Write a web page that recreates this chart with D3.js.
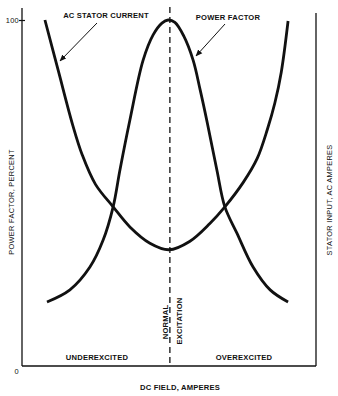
<!DOCTYPE html>
<meta charset="utf-8">
<head>
<style>
 body { margin: 0; background: #fff; }
 svg text { font-family: "Liberation Sans", Arial, sans-serif; fill: #111; }
 .lbl { font-size: 7.6px; font-weight: bold; letter-spacing: 0.2px; }
 .ax { font-size: 7.4px; letter-spacing: 0.3px; }
</style>
</head>
<body></body>
<script src="https://d3js.org/d3.v7.min.js"></script>
<script>
 // DC field (percent of axis span) vs values (percent of axis height)
 const currentX = [7.8, 12.3, 17.3, 20.5, 25, 31, 36.7, 43.5, 50, 57, 63.9, 69, 75.2, 80, 83.5, 86, 88.2, 90.5];
 const currentY = [100, 85.5, 69.5, 61, 52.5, 46, 40.2, 35.5, 33.6, 36, 41.2, 46, 53, 60, 68.5, 76, 85, 99.7];
 const pfX = [8.5, 16.3, 23.1, 27.6, 31, 33.3, 36.7, 41.2, 44.6, 47.6, 49.7, 52, 55, 58.2, 60.6, 63, 66.3, 69, 73.1, 78.6, 84.4, 90.5];
 const pfY = [18.5, 22, 28.6, 36.4, 46, 56.6, 71.1, 88.4, 95.7, 99.1, 100, 99.3, 95.4, 88.4, 79.8, 70.4, 56.6, 46, 38.4, 28.6, 22, 18.5];
 const yTicks = [0, 100];
 const normalX = 50.3;

 const width = 338, height = 396;
 const svg = d3.select("body").append("svg")
     .attr("width", width).attr("height", height);

 const x = d3.scaleLinear().domain([0, 100]).range([22, 316]);
 const y = d3.scaleLinear().domain([0, 100]).range([366, 20]);

 svg.append("defs").append("marker")
     .attr("id", "arr").attr("viewBox", "0 0 10 10")
     .attr("refX", 9).attr("refY", 5)
     .attr("markerWidth", 7).attr("markerHeight", 7)
     .attr("orient", "auto")
     .append("path").attr("d", "M0,1 L10,5 L0,9 Z").attr("fill", "#111");

 // frame lines
 const axisColor = "#111";
 svg.append("line").attr("x1", x(0)).attr("x2", x(0)).attr("y1", 8).attr("y2", y(0))
     .attr("stroke", axisColor).attr("stroke-width", 1.3);
 svg.append("line").attr("x1", x(100)).attr("x2", x(100)).attr("y1", 13).attr("y2", y(0))
     .attr("stroke", axisColor).attr("stroke-width", 1.3);
 svg.append("line").attr("x1", x(0)).attr("x2", x(100)).attr("y1", y(0)).attr("y2", y(0))
     .attr("stroke", axisColor).attr("stroke-width", 1.6);

 // y ticks
 const yAxis = svg.append("g").attr("transform", `translate(${x(0)},0)`)
     .call(d3.axisLeft(y).tickValues(yTicks).tickSize(3).tickFormat(d3.format("d")));
 yAxis.select(".domain").remove();
 yAxis.selectAll(".tick line").attr("x1", 3).attr("x2", -3).attr("stroke", axisColor)
     .attr("stroke-width", 1.2)
     .filter(d => d === 0).remove();
 yAxis.selectAll(".tick text").attr("class", "ax").attr("font-size", null)
     .attr("font-family", null).attr("x", -3)
     .filter(d => d === 0).attr("x", -3).attr("dy", "0.95em");

 // normal excitation dashed line
 svg.append("line").attr("x1", x(normalX)).attr("x2", x(normalX)).attr("y1", 7).attr("y2", y(0))
     .attr("stroke", axisColor).attr("stroke-width", 1.3).attr("stroke-dasharray", "6,4");

 const line = d3.line().x(d => x(d[0])).y(d => y(d[1])).curve(d3.curveCatmullRom.alpha(0.5));
 svg.append("path").datum(d3.zip(currentX, currentY)).attr("d", line)
     .attr("fill", "none").attr("stroke", "#111").attr("stroke-width", 2.8);
 svg.append("path").datum(d3.zip(pfX, pfY)).attr("d", line)
     .attr("fill", "none").attr("stroke", "#111").attr("stroke-width", 2.8);

 // callouts
 svg.append("text").attr("class", "lbl").attr("x", 106).attr("y", 18)
     .attr("text-anchor", "middle").text("AC STATOR CURRENT");
 svg.append("line").attr("x1", 97).attr("y1", 23).attr("x2", 60).attr("y2", 61)
     .attr("stroke", "#111").attr("stroke-width", 1).attr("marker-end", "url(#arr)");
 svg.append("text").attr("class", "lbl").attr("x", 228).attr("y", 20)
     .attr("text-anchor", "middle").text("POWER FACTOR");
 svg.append("line").attr("x1", 225).attr("y1", 24).attr("x2", 196).attr("y2", 56)
     .attr("stroke", "#111").attr("stroke-width", 1).attr("marker-end", "url(#arr)");

 // region labels
 svg.append("text").attr("class", "lbl").attr("x", 97).attr("y", 360)
     .attr("text-anchor", "middle").text("UNDEREXCITED");
 svg.append("text").attr("class", "lbl").attr("x", 244).attr("y", 360)
     .attr("text-anchor", "middle").text("OVEREXCITED");
 svg.append("text").attr("class", "lbl")
     .attr("transform", "translate(168,322) rotate(-90)")
     .attr("text-anchor", "middle").text("NORMAL");
 svg.append("text").attr("class", "lbl")
     .attr("transform", "translate(182,321) rotate(-90)")
     .attr("text-anchor", "middle").text("EXCITATION");

 // axis titles
 svg.append("text").attr("class", "lbl").attr("x", 180).attr("y", 390)
     .attr("text-anchor", "middle").text("DC FIELD, AMPERES");
 svg.append("text").attr("class", "ax")
     .attr("transform", "translate(14,202) rotate(-90)")
     .attr("text-anchor", "middle").text("POWER FACTOR, PERCENT");
 svg.append("text").attr("class", "ax")
     .attr("transform", "translate(332,200) rotate(-90)")
     .attr("text-anchor", "middle").text("STATOR INPUT, AC AMPERES");
</script>
